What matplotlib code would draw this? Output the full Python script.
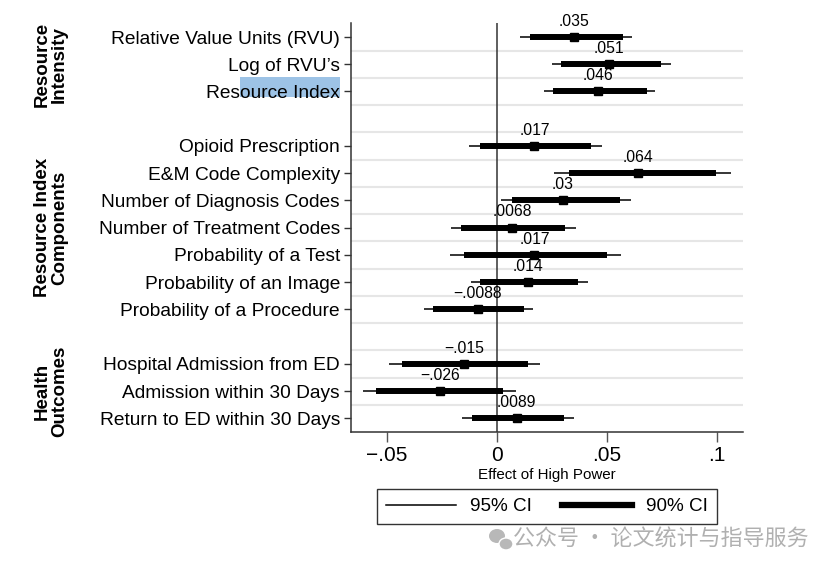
import matplotlib
matplotlib.use("Agg")
import matplotlib.pyplot as plt
import matplotlib.transforms as mtransforms
from matplotlib.patches import Rectangle, Ellipse
from matplotlib.lines import Line2D

plt.rcParams['font.family'] = ['Liberation Sans', 'DejaVu Sans']

# outcomes, top to bottom (None = blank spacer row)
labels = ["Relative Value Units (RVU)", "Log of RVU\u2019s", "Resource Index", None,
          "Opioid Prescription", "E&M Code Complexity", "Number of Diagnosis Codes",
          "Number of Treatment Codes", "Probability of a Test", "Probability of an Image",
          "Probability of a Procedure", None,
          "Hospital Admission from ED", "Admission within 30 Days", "Return to ED within 30 Days"]
coef = [0.035, 0.051, 0.046, None, 0.017, 0.064, 0.030, 0.0068, 0.017, 0.014, -0.0088,
        None, -0.015, -0.026, 0.0089]
coef_text = [".035", ".051", ".046", None, ".017", ".064", ".03", ".0068", ".017", ".014",
             "\u2212.0088", None, "\u2212.015", "\u2212.026", ".0089"]
lo95 = [0.0106, 0.0249, 0.0214, None, -0.0129, 0.0259, 0.0020, -0.0210, -0.0215, -0.0118,
        -0.0332, None, -0.0490, -0.0608, -0.0159]
hi95 = [0.0612, 0.0790, 0.0720, None, 0.0479, 0.1062, 0.0608, 0.0358, 0.0562, 0.0412,
        0.0162, None, 0.0195, 0.0085, 0.0350]
lo90 = [0.0150, 0.0292, 0.0256, None, -0.0077, 0.0327, 0.0068, -0.0164, -0.0150, -0.0076,
        -0.0290, None, -0.0433, -0.0550, -0.0115]
hi90 = [0.0571, 0.0745, 0.0680, None, 0.0427, 0.0995, 0.0559, 0.0310, 0.0498, 0.0368,
        0.0121, None, 0.0140, 0.0029, 0.0306]

groups = ["Resource\nIntensity", "Resource Index\nComponents", "Health\nOutcomes"]
group_center = [2, 8, 14]

xticks = [-0.05, 0, 0.05, 0.1]
xtick_labels = ["\u2212.05", "0", ".05", ".1"]

fig = plt.figure(figsize=(8.36, 5.72), dpi=100)
ax = fig.add_axes([351 / 836, 1 - 432 / 572, (743 - 351) / 836, (432 - 23.4) / 572])

pos = list(range(1, len(labels) + 1))
for i, y in enumerate(pos):
    if coef[i] is None:
        continue
    ax.plot([lo95[i], hi95[i]], [y, y], color='black', lw=1.1, solid_capstyle='butt', zorder=3)
    ax.plot([lo90[i], hi90[i]], [y, y], color='black', lw=4.3, solid_capstyle='butt', zorder=3)
    ax.plot(coef[i], y, marker='s', color='black', ms=5.5, zorder=4)
    ax.annotate(coef_text[i], (coef[i], y), xytext=(0, 6), textcoords='offset points',
                ha='center', va='bottom', fontsize=11.3)

# grid between rows
for g in range(1, len(labels)):
    ax.axhline(g + 0.5, color='#e6e6e6', lw=1.5, zorder=0)
ax.axvline(0, color='#333333', lw=1.1, zorder=2)

ax.set_xlim(-0.0664, 0.1118)
ax.set_ylim(len(labels) + 0.5, 0.5)

tick_pos = [p for p, l in zip(pos, labels) if l is not None]
ax.set_yticks(tick_pos)
ax.set_yticklabels([l for l in labels if l is not None], fontsize=13.8)
ax.set_xticks(xticks)
ax.set_xticklabels(xtick_labels, fontsize=15)
ax.tick_params(axis='y', length=5, width=1, color='#333333', pad=3)
ax.tick_params(axis='x', length=7, width=1, color='#555555', pad=3)
ax.set_xlabel("Effect of High Power", fontsize=10.9, labelpad=2)

for s in ['top', 'right']:
    ax.spines[s].set_visible(False)
for s in ['left', 'bottom']:
    ax.spines[s].set_color('#333333')
    ax.spines[s].set_linewidth(1.1)

# group labels
trans = mtransforms.blended_transform_factory(fig.transFigure, ax.transData)
for g, c in zip(groups, group_center):
    ax.text(51 / 836, c, g, transform=trans, rotation=90, ha='center', va='center',
            fontsize=13.5, fontweight='bold', linespacing=1.0)

# selection highlight on "Resource Index"
fig.patches.append(Rectangle((240 / 836, 1 - 97 / 572), 100 / 836, 20 / 572,
                             transform=fig.transFigure, facecolor='#9dc3e6', edgecolor='none',
                             zorder=-1))

handles = [Line2D([], [], color='black', lw=1.1), Line2D([], [], color='black', lw=4.5)]
leg = fig.legend(handles, ["95% CI", "90% CI"], loc='center', ncol=2,
                 bbox_to_anchor=(547 / 836, 1 - 506.5 / 572), fontsize=13.6,
                 frameon=True, fancybox=False, handlelength=3.7, columnspacing=1.6,
                 handletextpad=0.75, borderpad=0.45, borderaxespad=0)
leg.get_frame().set_edgecolor('black')
leg.get_frame().set_linewidth(1.0)

# watermark
fig.patches.append(Ellipse((497 / 836, 1 - 536 / 572), 16 / 836, 14 / 572,
                           transform=fig.transFigure, facecolor='#b8b8b8', edgecolor='none'))
fig.patches.append(Ellipse((506 / 836, 1 - 544 / 572), 14 / 836, 12 / 572,
                           transform=fig.transFigure, facecolor='#b8b8b8', edgecolor='white',
                           lw=1))
fig.text(513 / 836, 1 - 540 / 572, "公众号 · 论文统计与指导服务", ha='left', va='center',
         fontsize=15.8, color='#b0b0b0', family=['Noto Sans CJK SC', 'DejaVu Sans'])

fig.savefig("out.png", dpi=100)
